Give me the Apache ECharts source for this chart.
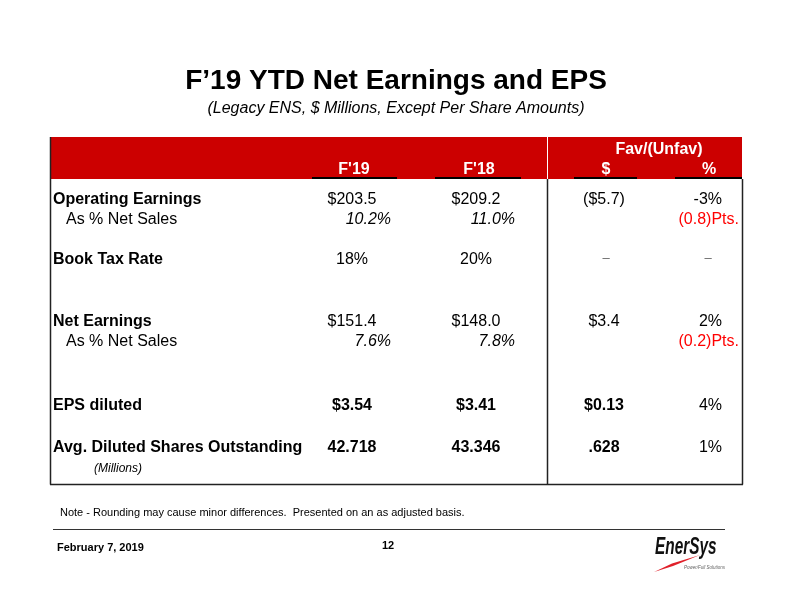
<!DOCTYPE html>
<html>
<head>
<meta charset="utf-8">
<script src="https://cdn.jsdelivr.net/npm/echarts@6/dist/echarts.min.js"></script>
<style>
  html, body { margin: 0; padding: 0; background: #ffffff; }
  #chart { width: 792px; height: 612px; }
</style>
</head>
<body>
<div id="chart"></div>
<script>
// ---- Data ----
const titleText = 'F\u201919 YTD Net Earnings and EPS';
const subtitleText = '(Legacy ENS, $ Millions, Except Per Share Amounts)';
const groupHeader = 'Fav/(Unfav)';
const colHeaders = ["F'19", "F'18", "$", "%"];
const rowLabels = ['Operating Earnings', 'As % Net Sales', 'Book Tax Rate', 'Net Earnings', 'As % Net Sales', 'EPS diluted', 'Avg. Diluted Shares Outstanding', '(Millions)'];
const f19Values = ['$203.5', '10.2%', '18%', '$151.4', '7.6%', '$3.54', '42.718', ''];
const f18Values = ['$209.2', '11.0%', '20%', '$148.0', '7.8%', '$3.41', '43.346', ''];
const favDollar = ['($5.7)', '', '\u2013', '$3.4', '', '$0.13', '.628', ''];
const favPct = ['-3%', '(0.8)Pts.', '\u2013', '2%', '(0.2)Pts.', '4%', '1%', ''];
const noteText = 'Note - Rounding may cause minor differences.  Presented on an as adjusted basis.';
const footerDate = 'February 7, 2019';
const pageNumber = '12';
const logoText = 'EnerSys';
const logoTagline = 'Power/Full Solutions';

// ---- Layout (styling only) ----
const FF = '"Liberation Sans", Arial, sans-serif';
const RED = '#cc0000';
const rowY = [200, 220, 259.5, 322, 342, 406, 447.5, 468.5];
const rowKind = ['main', 'sub', 'main', 'main', 'sub', 'bold', 'bold', 'small'];
const T = { left: 51, right: 742, top: 137, headBottom: 179, bottom: 484.5, divider: 547.5 };

const g = [];
function txt(text, x, y, opt) {
  opt = opt || {};
  g.push({
    type: 'text', x: x, y: y, silent: true,
    style: {
      text: text,
      font: opt.font || ('16px ' + FF),
      fill: opt.fill || '#000',
      textAlign: opt.align || 'left',
      textVerticalAlign: 'middle'
    }
  });
}
function line(x1, y1, x2, y2, stroke, w) {
  g.push({ type: 'line', silent: true, shape: { x1: x1, y1: y1, x2: x2, y2: y2 }, style: { stroke: stroke, lineWidth: w } });
}

// Titles
txt(titleText, 396, 81.5, { font: 'bold 28px ' + FF, align: 'center' });
txt(subtitleText, 396, 109, { font: 'italic 16px ' + FF, align: 'center' });

// Header band
g.push({ type: 'rect', silent: true, shape: { x: T.left, y: T.top, width: T.right - T.left, height: T.headBottom - T.top }, style: { fill: RED } });
line(T.divider, T.top, T.divider, T.headBottom, '#ffffff', 1);
txt(groupHeader, 659, 150, { font: 'bold 16px ' + FF, fill: '#fff', align: 'center' });
const headX = [354, 479, 606, 709];
colHeaders.forEach((h, i) => txt(h, headX[i], 170, { font: 'bold 16px ' + FF, fill: '#fff', align: 'center' }));
// header underlines
const ul = [[312, 397], [435, 521], [574, 637], [675, 742]];
ul.forEach(u => line(u[0], 178, u[1], 178, '#000', 2));

// Table borders
line(T.left - 0.5, T.top, T.left - 0.5, T.bottom, '#222', 1.5);
line(T.right + 0.5, T.headBottom, T.right + 0.5, T.bottom, '#222', 1.5);
line(T.left - 1, T.bottom, T.right + 1, T.bottom, '#222', 1.5);
line(T.divider, T.headBottom, T.divider, T.bottom, '#222', 1.5);

// Rows
rowLabels.forEach((lab, i) => {
  const k = rowKind[i];
  const y = rowY[i];
  if (k === 'main' || k === 'bold') txt(lab, 53, y, { font: 'bold 16px ' + FF });
  else if (k === 'sub') txt(lab, 66, y, { font: '16px ' + FF });
  else txt(lab, 94, y, { font: 'italic 12px ' + FF });

  const valFont = k === 'bold' ? 'bold 16px ' + FF : '16px ' + FF;
  if (k === 'sub') {
    txt(f19Values[i], 391, y, { font: 'italic 16px ' + FF, align: 'right' });
    txt(f18Values[i], 515, y, { font: 'italic 16px ' + FF, align: 'right' });
  } else if (f19Values[i]) {
    txt(f19Values[i], 352, y, { font: valFont, align: 'center' });
    txt(f18Values[i], 476, y, { font: valFont, align: 'center' });
  }
  if (favDollar[i] === '\u2013') txt(favDollar[i], 606, y - 1, { font: '13px ' + FF, fill: '#666', align: 'center' });
  else if (favDollar[i]) txt(favDollar[i], 604, y, { font: valFont, align: 'center' });
  const p = favPct[i];
  if (p === '\u2013') txt(p, 708, y - 1, { font: '13px ' + FF, fill: '#666', align: 'center' });
  else if (p.indexOf('Pts') >= 0) txt(p, 739, y, { font: '16px ' + FF, fill: '#ff0000', align: 'right' });
  else if (p) txt(p, 722, y, { font: '16px ' + FF, align: 'right' });
});

// Footer
txt(noteText, 60, 512.5, { font: '11px ' + FF });
line(53, 529.5, 725, 529.5, '#333', 1);
txt(footerDate, 57, 547.5, { font: 'bold 11px ' + FF });
txt(pageNumber, 388, 546, { font: 'bold 11px ' + FF, align: 'center' });

// Logo
g.push({
  type: 'polygon', silent: true,
  shape: { points: [[654, 572], [672, 563.5], [700, 555], [673, 566]] },
  style: { fill: '#e0202a' }
});
g.push({
  type: 'text', silent: true, x: 655, y: 547, scaleX: 0.64,
  style: { text: logoText, font: 'italic 900 24px ' + FF, fill: '#111', textAlign: 'left', textVerticalAlign: 'middle' }
});
txt(logoTagline, 684, 568, { font: 'italic 4.5px ' + FF, fill: '#666' });

const chart = echarts.init(document.getElementById('chart'), null, { renderer: 'canvas' });
chart.setOption({ backgroundColor: '#ffffff', animation: false, graphic: { elements: g } });
</script>
</body>
</html>
